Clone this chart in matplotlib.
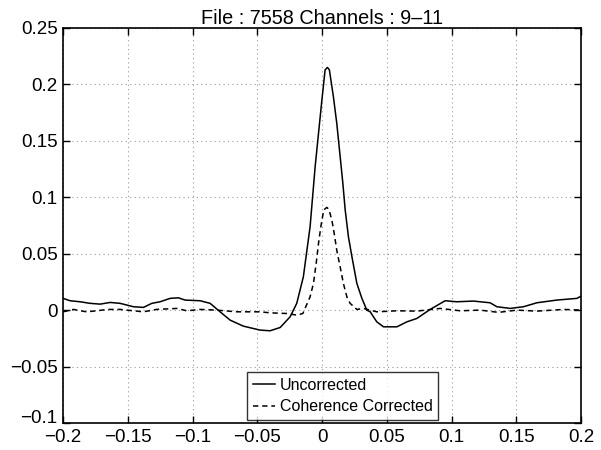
import matplotlib.pyplot as plt

plt.rcParams['font.family'] = ['Liberation Sans', 'DejaVu Sans']

# Uncorrected curve (solid)
x_unc = [-0.2, -0.1946, -0.1869, -0.1792, -0.1714, -0.1637, -0.156, -0.1457, -0.138,
         -0.1315, -0.1251, -0.1174, -0.111, -0.1058, -0.0942, -0.0865, -0.0788, -0.071,
         -0.0608, -0.0479, -0.0402, -0.0324, -0.0247, -0.0196, -0.0145, -0.0093, -0.0054,
         -0.0028, -0.0002, 0.0023, 0.0041, 0.0056, 0.0087, 0.0113, 0.0134, 0.016, 0.0178,
         0.0203, 0.023, 0.0268, 0.0307, 0.0345, 0.0371, 0.0422,
         0.0474, 0.0577, 0.0654, 0.0731, 0.0834, 0.095, 0.104, 0.1168, 0.1297, 0.1349,
         0.1452, 0.1555, 0.1658, 0.1812, 0.1967, 0.2]
y_unc = [0.0104, 0.0083, 0.0074, 0.006, 0.0053, 0.0068, 0.006, 0.003, 0.0024,
         0.006, 0.0074, 0.0104, 0.0109, 0.0089, 0.0083, 0.006, -0.0015, -0.0089,
         -0.0142, -0.0177, -0.0183, -0.0154, -0.0059, 0.006, 0.0295, 0.0739, 0.127,
         0.1566, 0.186, 0.2128, 0.215, 0.2128, 0.189, 0.1655, 0.1418, 0.1123, 0.0887,
         0.065, 0.0473, 0.0237, 0.0104, 0.0, -0.0015, -0.0104,
         -0.0148, -0.0148, -0.0104, -0.0074, 0.0006, 0.0083, 0.0074, 0.008, 0.0065, 0.003,
         0.0015, 0.003, 0.0065, 0.0089, 0.0104, 0.0124]

# Coherence corrected curve (dashed)
x_coh = [-0.2, -0.192, -0.182, -0.174, -0.166, -0.156, -0.1457, -0.138, -0.128, -0.1122,
         -0.1045, -0.0942, -0.0814, -0.066, -0.056, -0.048, -0.0402, -0.0273, -0.0196,
         -0.0149, -0.0093, -0.0067, -0.0046, -0.0028, -0.001, 0.0012, 0.0036, 0.0052,
         0.0075, 0.0093, 0.0113, 0.0139, 0.0164, 0.0191, 0.0216,
         0.0268, 0.0319, 0.0422, 0.0577, 0.0731, 0.0911, 0.1065, 0.122, 0.1362, 0.1504,
         0.1658, 0.1864, 0.2]
y_coh = [-0.0015, 0.0006, -0.0015, -0.0006, 0.0006, 0.0006, -0.0006, -0.0015, 0.0006, 0.0015,
         -0.0006, 0.0006, 0.0, -0.0015, -0.0015, -0.0015, -0.0024, -0.003, -0.0044,
         -0.003, 0.0118, 0.0237, 0.0414, 0.0591, 0.0739, 0.0887, 0.091, 0.0893,
         0.0798, 0.068, 0.053, 0.0384, 0.0237, 0.0118, 0.006,
         0.0006, 0.0015, -0.0015, -0.0006, -0.0009, 0.0015, -0.0006, 0.0, -0.002, 0.0,
         -0.0009, 0.0006, 0.0]

x_ticks = [-0.2, -0.15, -0.1, -0.05, 0, 0.05, 0.1, 0.15, 0.2]
y_ticks = [-0.1, -0.05, 0, 0.05, 0.1, 0.15, 0.2, 0.25]


def fmt(v):
    return ('%g' % v).replace('-', '\u2212')


fig = plt.figure(figsize=(6.01, 4.5), dpi=100)
ax = fig.add_axes([0.105, 0.06, 0.862, 0.878])

ax.plot(x_unc, y_unc, color='black', linewidth=1.1, label='Uncorrected')
ax.plot(x_coh, y_coh, color='black', linewidth=1.1, linestyle=(0, (3.5, 2.5)),
        label='Coherence Corrected')

ax.set_xlim(-0.2, 0.2)
ax.set_ylim(-0.1, 0.25)
ax.set_xticks(x_ticks)
ax.set_yticks(y_ticks)
ax.set_xticklabels([fmt(v) for v in x_ticks])
ax.set_yticklabels([fmt(v) for v in y_ticks])
ax.tick_params(direction='in', length=5, width=1, labelsize=13.5,
               top=True, right=True, pad=4)
for sp in ax.spines.values():
    sp.set_linewidth(1.2)

# lift the bottom y label a little so it clears the x labels (as in the original)
ax.get_yticklabels()[0].set_verticalalignment('baseline')

ax.grid(True, color='#999999', linestyle=(0, (1, 3)), linewidth=0.8)

ax.set_title('File : 7558 Channels : 9\u201311', fontsize=14.3, pad=3)

leg = ax.legend(loc='lower left', bbox_to_anchor=(0.355, 0.008), borderaxespad=0,
                fontsize=11.5, frameon=True, fancybox=False, handlelength=1.4,
                handletextpad=0.3, borderpad=0.35, labelspacing=0.4)
leg.get_frame().set_edgecolor('black')
leg.get_frame().set_linewidth(1.0)

fig.savefig('out.png', dpi=100)
